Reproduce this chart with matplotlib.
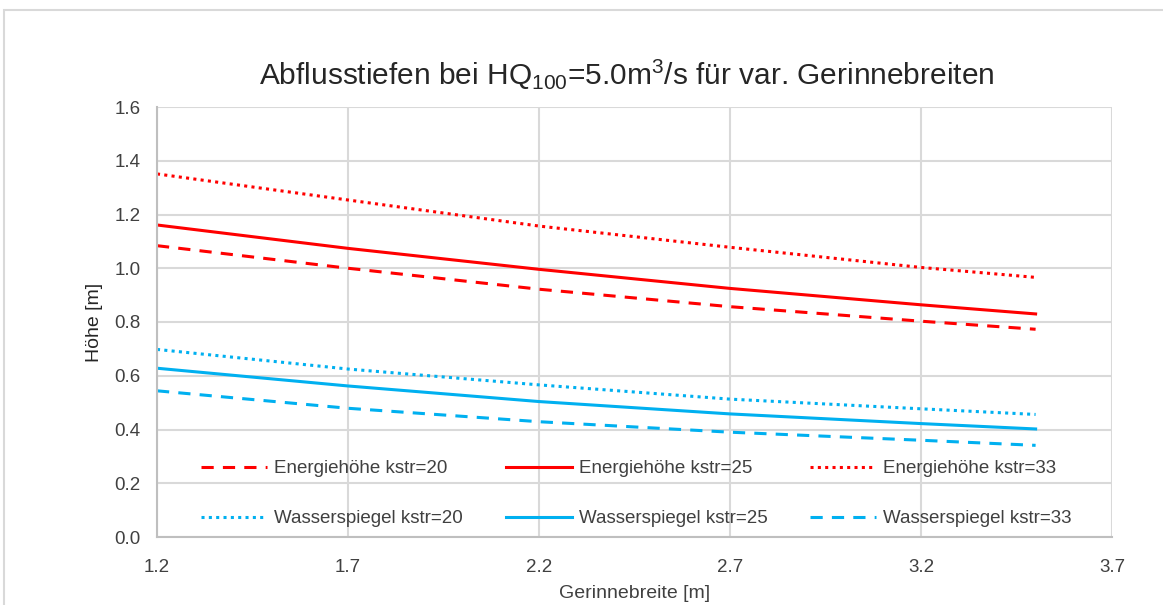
import matplotlib
matplotlib.use("Agg")
import matplotlib.pyplot as plt
from matplotlib.patches import Rectangle
from matplotlib.legend import Legend

plt.rcParams['font.family'] = ['Liberation Sans', 'DejaVu Sans']
plt.rcParams['mathtext.default'] = 'regular'

# ---- data ----
breite = [1.2, 1.7, 2.2, 2.7, 3.2, 3.5]
energie_k20 = [1.084, 1.000, 0.922, 0.857, 0.803, 0.773]
energie_k25 = [1.161, 1.074, 0.996, 0.925, 0.864, 0.830]
energie_k33 = [1.351, 1.254, 1.157, 1.078, 1.003, 0.966]
wasser_k20 = [0.698, 0.625, 0.566, 0.513, 0.477, 0.456]
wasser_k25 = [0.628, 0.562, 0.504, 0.458, 0.422, 0.402]
wasser_k33 = [0.544, 0.479, 0.429, 0.390, 0.360, 0.341]
xticks = [1.2, 1.7, 2.2, 2.7, 3.2, 3.7]
yticks = [0.0, 0.2, 0.4, 0.6, 0.8, 1.0, 1.2, 1.4, 1.6]

RED = '#FF0000'
BLUE = '#00B0F0'
GRID = '#D9D9D9'

W, H = 1163, 605
fig = plt.figure(figsize=(W / 100, H / 100), dpi=100)
fig.patches.append(Rectangle((4 / W, -0.1), 1.2, 1 - 10 / H + 0.1, transform=fig.transFigure,
                             facecolor='white', edgecolor=GRID, linewidth=1.5, zorder=-10))

ax = fig.add_axes([157 / W, 1 - 537 / H, (1112 - 157) / W, (537 - 107) / H])
ax.set_facecolor('none')

lw = 2.2
dash = (4, 3)
dot = (1, 1.4)
l_e20, = ax.plot(breite, energie_k20, color=RED, lw=lw, dashes=dash, label='Energiehöhe kstr=20')
l_e25, = ax.plot(breite, energie_k25, color=RED, lw=lw, label='Energiehöhe kstr=25')
l_e33, = ax.plot(breite, energie_k33, color=RED, lw=lw, dashes=dot, label='Energiehöhe kstr=33')
l_w20, = ax.plot(breite, wasser_k20, color=BLUE, lw=lw, dashes=dot, label='Wasserspiegel kstr=20')
l_w25, = ax.plot(breite, wasser_k25, color=BLUE, lw=lw, label='Wasserspiegel kstr=25')
l_w33, = ax.plot(breite, wasser_k33, color=BLUE, lw=lw, dashes=dash, label='Wasserspiegel kstr=33')

ax.set_xlim(1.2, 3.7)
ax.set_ylim(0, 1.6)
ax.set_xticks(xticks)
ax.set_xticklabels([f'{v:.1f}' for v in xticks])
ax.set_yticks(yticks)
ax.set_yticklabels([f'{v:.1f}' for v in yticks])
ax.grid(True, color=GRID, linewidth=1.5)
ax.set_axisbelow(True)
for s in ['top', 'right']:
    ax.spines[s].set_visible(False)
for s in ['left', 'bottom']:
    ax.spines[s].set_color('#BFBFBF')
    ax.spines[s].set_linewidth(1.5)
ax.tick_params(length=0, labelsize=13.5, colors='#404040')
ax.tick_params(axis='x', pad=16)
ax.tick_params(axis='y', pad=12)

ax.set_xlabel('Gerinnebreite [m]', fontsize=14, color='#404040', labelpad=6)
ax.set_ylabel('Höhe [m]', fontsize=14, color='#262626', labelpad=8)

fig.text(0.5 * (250 + 1003) / W, 1 - 75 / H,
         r'Abflusstiefen bei HQ$_{100}$=5.0m$^{3}$/s für var. Gerinnebreiten',
         ha='center', va='center', fontsize=21.5, color='#262626')

cols = [(l_e20, l_w20), (l_e25, l_w25), (l_e33, l_w33)]
xs = [(201 - 157) / 955, (506 - 157) / 955, (810 - 157) / 955]
for hs, x0 in zip(cols, xs):
    leg = Legend(ax, list(hs), [h.get_label() for h in hs], loc='upper left',
                 bbox_to_anchor=(x0, (537 - 460) / 430), bbox_transform=ax.transAxes,
                 frameon=False, borderpad=0, borderaxespad=0,
                 handlelength=3.5, handletextpad=0.4, labelspacing=1.75, fontsize=13.5)
    for t in leg.get_texts():
        t.set_color('#404040')
    ax.add_artist(leg)

fig.savefig('out.png', dpi=100)
